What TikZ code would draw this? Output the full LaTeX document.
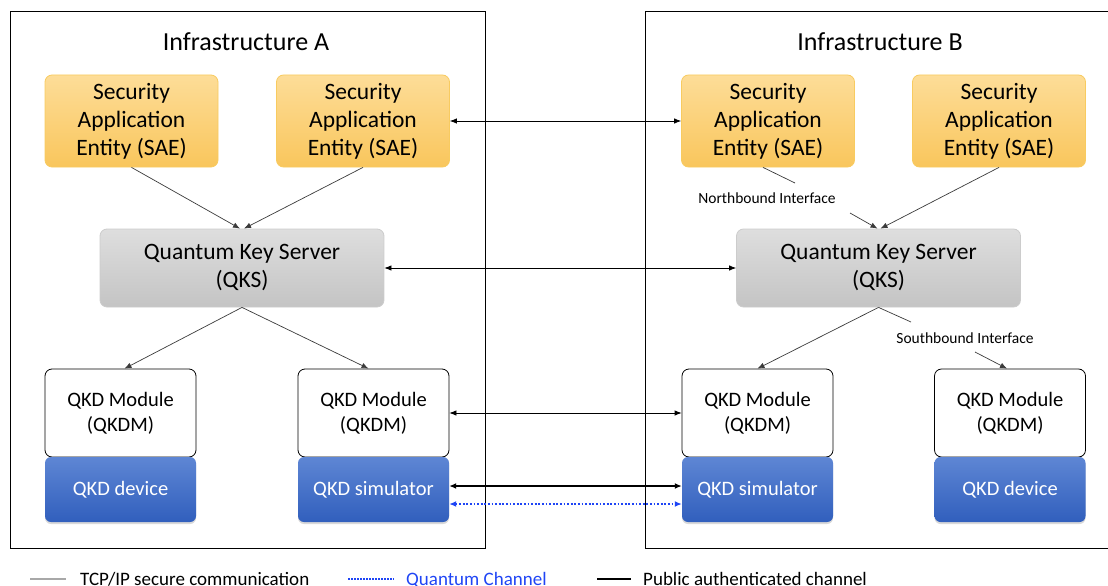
\documentclass[tikz,border=0pt]{standalone}
\usepackage{fontspec}
\setmainfont{Carlito}
\usetikzlibrary{arrows.meta,shadows}
\definecolor{saetop}{HTML}{FDDD98}
\definecolor{saebot}{HTML}{F9C65C}
\definecolor{saeborder}{HTML}{F8CB60}
\definecolor{qkstop}{HTML}{DEDEDE}
\definecolor{qksbot}{HTML}{C4C4C4}
\definecolor{qksborder}{HTML}{CCCCCC}
\definecolor{devtop}{HTML}{5E86D4}
\definecolor{devbot}{HTML}{315FBD}
\definecolor{qblue}{HTML}{1F45F5}
\definecolor{conn}{HTML}{3A3A3A}
\definecolor{legray}{HTML}{A8A8A8}
\begin{document}
\begin{tikzpicture}[x=1pt,y=-1pt,
  every node/.style={inner sep=0pt, align=center},
  infra/.style={draw=black, line width=1pt},
  title/.style={font=\fontsize{26}{30}\selectfont},
  saebox/.style={rounded corners=7pt, draw=saeborder, line width=0.8pt, top color=saetop, bottom color=saebot,
    minimum width=173pt, minimum height=92pt, font=\fontsize{23.5}{28}\selectfont},
  qksbox/.style={rounded corners=7pt, draw=qksborder, line width=0.8pt, top color=qkstop, bottom color=qksbot,
    minimum width=284pt, minimum height=78pt, font=\fontsize{23.5}{28}\selectfont},
  qkdmbox/.style={rounded corners=7pt, draw=black, line width=0.8pt, fill=white,
    minimum width=151pt, minimum height=88pt, font=\fontsize{20.5}{25}\selectfont},
  devbox/.style={rounded corners=6pt, top color=devtop, bottom color=devbot, draw=none,
    drop shadow={shadow xshift=0pt, shadow yshift=-2pt, opacity=0.3},
    minimum width=151pt, minimum height=65pt, text=white, font=\fontsize{20.5}{25}\selectfont},
  iflabel/.style={font=\fontsize{15.5}{18}\selectfont},
  conn/.style={draw=conn, line width=0.7pt, -{Latex[length=7pt,width=5.5pt]}},
  plain/.style={draw=conn, line width=0.7pt},
  biconn/.style={draw=black, line width=0.8pt, {Latex[length=7pt,width=5.5pt]}-{Latex[length=7pt,width=5.5pt]}},
  pubchan/.style={draw=black, line width=1.8pt, {Latex[length=7pt,width=6pt]}-{Latex[length=7pt,width=6pt]}},
  qchan/.style={draw=qblue, line width=1.8pt, dash pattern=on 1.8pt off 1.8pt, {Latex[length=7pt,width=6pt]}-{Latex[length=7pt,width=6pt]}},
  legtext/.style={font=\fontsize{19}{22}\selectfont, anchor=base west}
]
\useasboundingbox (0,0) rectangle (1108,586);
\clip (0,0) rectangle (1108,586);

% infrastructure frames
\draw[infra] (10,12) rectangle (485,548);
\draw[infra] (645,12) rectangle (1130,548);
\node[title] (tA) at (246,42) {Infrastructure A};
\node[title] (tB) at (880,42) {Infrastructure B};

% SAE
\node[saebox] (saeA1) at (131.5,121) {Security\\Application\\Entity (SAE)};
\node[saebox] (saeA2) at (363,121) {Security\\Application\\Entity (SAE)};
\node[saebox] (saeB1) at (768,121) {Security\\Application\\Entity (SAE)};
\node[saebox] (saeB2) at (999,121) {Security\\Application\\Entity (SAE)};

% QKS
\node[qksbox] (qksA) at (242,268) {Quantum Key Server\\(QKS)};
\node[qksbox] (qksB) at (878.5,268) {Quantum Key Server\\(QKS)};

% QKDM
\node[qkdmbox] (qkdmA1) at (120.5,413) {QKD Module\\(QKDM)};
\node[qkdmbox] (qkdmA2) at (373.5,413) {QKD Module\\(QKDM)};
\node[qkdmbox] (qkdmB1) at (757.5,413) {QKD Module\\(QKDM)};
\node[qkdmbox] (qkdmB2) at (1010,413) {QKD Module\\(QKDM)};

% devices
\node[devbox] (devA1) at (120.5,489.5) {QKD device};
\node[devbox] (devA2) at (373.5,489.5) {QKD simulator};
\node[devbox] (devB1) at (757.5,489.5) {QKD simulator};
\node[devbox] (devB2) at (1010,489.5) {QKD device};

% interface labels
\node[iflabel] (nb) at (767,198) {Northbound Interface};
\node[iflabel] (sb) at (965,338) {Southbound Interface};
\coordinate (nb1) at (795,183);
\coordinate (nb2) at (850,213);
\coordinate (sb1) at (911,322);
\coordinate (sb2) at (975,352);

% infrastructure A internal connectors
\draw[conn] (saeA1.south) -- ([xshift=-2pt]qksA.north);
\draw[conn] (saeA2.south) -- ([xshift=2pt]qksA.north);
\draw[conn] (qksA.south) -- ([xshift=4pt]qkdmA1.north);
\draw[conn] (qksA.south) -- ([xshift=-5pt]qkdmA2.north);

% infrastructure B internal connectors
\draw[plain] ([xshift=-5pt]saeB1.south) -- (nb1);
\draw[conn] (nb2) -- ([xshift=-1pt]qksB.north);
\draw[conn] (saeB2.south) -- ([xshift=2pt]qksB.north);
\draw[conn] (qksB.south) -- (qkdmB1.north);
\draw[plain] (qksB.south) -- (sb1);
\draw[conn] (sb2) -- ([xshift=-3pt]qkdmB2.north);

% between infrastructures
\draw[biconn] (saeA2.east) -- (saeB1.west);
\draw[biconn] (qksA.east) -- (qksB.west);
\draw[biconn] (qkdmA2.east) -- (qkdmB1.west);
\draw[pubchan] ([yshift=3.5pt]devA2.east) -- ([yshift=3.5pt]devB1.west);
\draw[qchan] ([yshift=-14.5pt]devA2.east) -- ([yshift=-14.5pt]devB1.west);

% legend
\coordinate (l1a) at (30,579); \coordinate (l1b) at (66,579);
\coordinate (l2a) at (348,579); \coordinate (l2b) at (394,579);
\coordinate (l3a) at (597,579); \coordinate (l3b) at (631,579);
\draw[draw=legray, line width=1.5pt] (l1a) -- (l1b);
\draw[draw=qblue, line width=1.5pt, dash pattern=on 1.5pt off 1.5pt] (l2a) -- (l2b);
\draw[draw=black, line width=2.2pt] (l3a) -- (l3b);
\node[legtext] (lg1) at (80,585) {TCP/IP secure communication};
\node[legtext, text=qblue] (lg2) at (406,585) {Quantum Channel};
\node[legtext] (lg3) at (643,585) {Public authenticated channel};
\end{tikzpicture}
\end{document}
